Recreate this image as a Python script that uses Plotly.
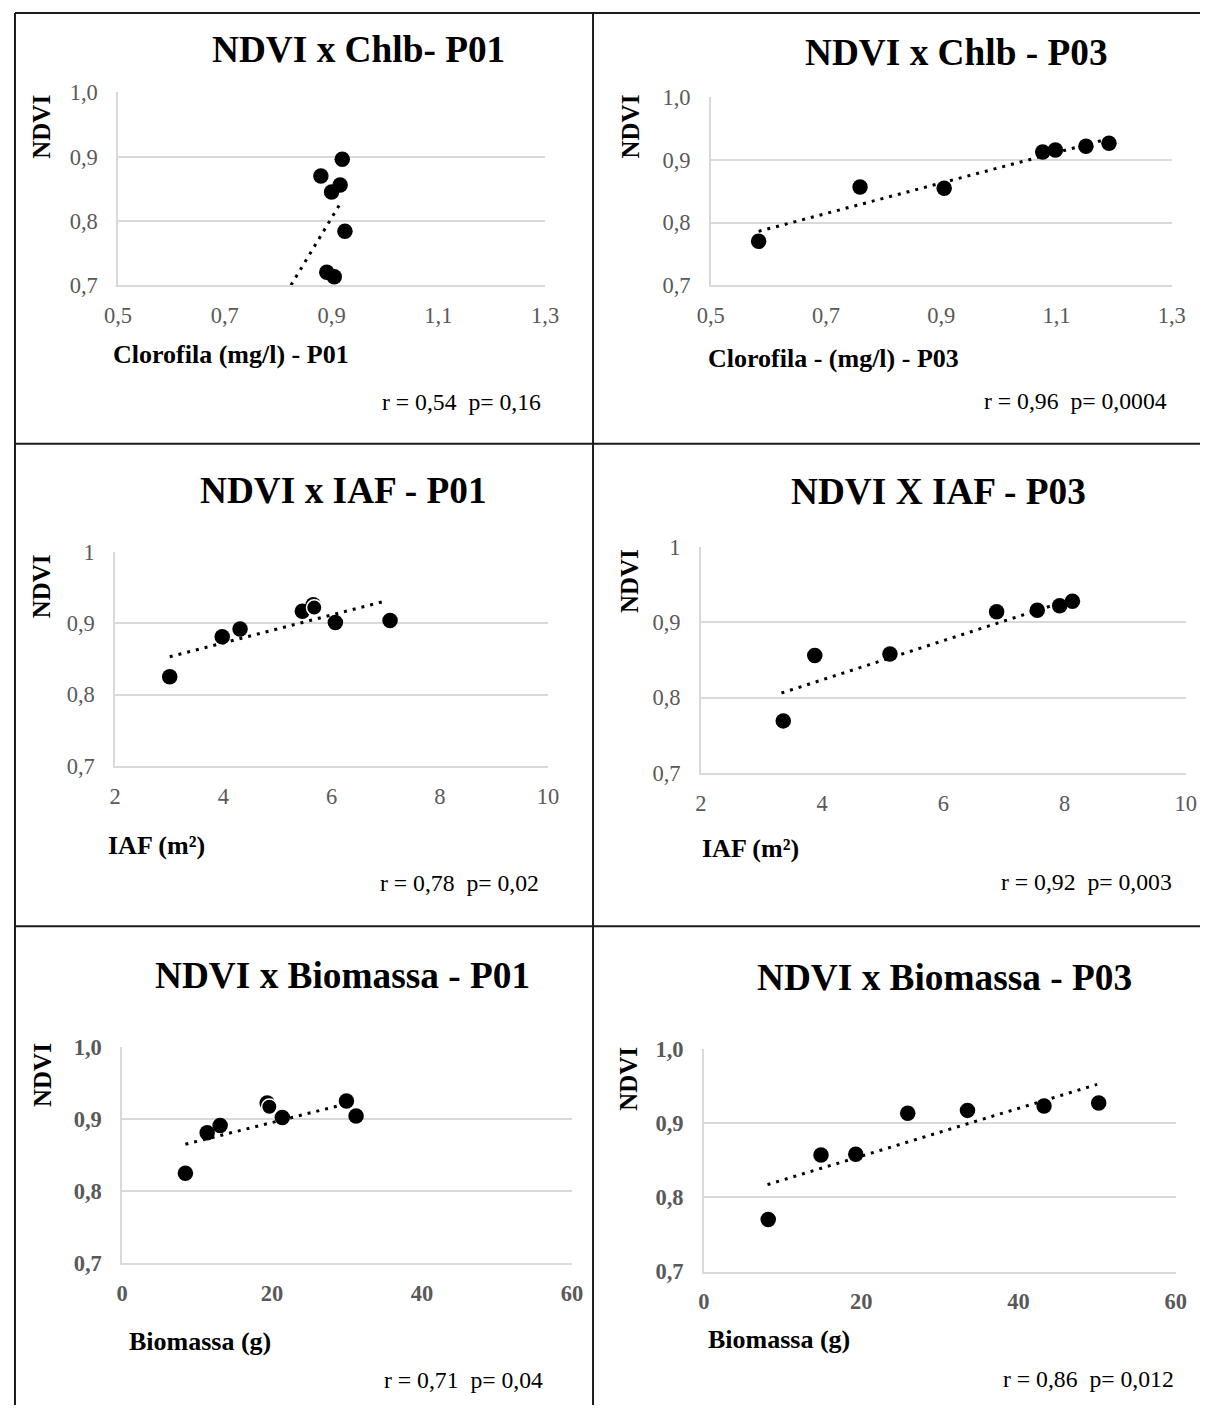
import plotly.graph_objects as go

# ---------------- data ----------------
# Panel 1: NDVI x Chlb - P01
chl_p01 = [0.880, 0.920, 0.916, 0.900, 0.925, 0.891, 0.905]
ndvi_chl_p01 = [0.870, 0.896, 0.856, 0.845, 0.784, 0.720, 0.713]
trend_chl_p01_x = [0.824, 0.917]
trend_chl_p01_y = [0.700, 0.828]

# Panel 2: NDVI x Chlb - P03
chl_p03 = [0.583, 0.759, 0.905, 1.076, 1.098, 1.151, 1.191]
ndvi_chl_p03 = [0.770, 0.857, 0.855, 0.913, 0.916, 0.922, 0.927]
trend_chl_p03_x = [0.583, 1.190]
trend_chl_p03_y = [0.786, 0.934]

# Panel 3: NDVI x IAF - P01
iaf_p01 = [3.01, 3.98, 4.31, 5.46, 5.66, 6.07, 7.08, 5.68]
ndvi_iaf_p01 = [0.825, 0.881, 0.892, 0.917, 0.926, 0.901, 0.904, 0.922]
trend_iaf_p01_x = [3.01, 7.03]
trend_iaf_p01_y = [0.853, 0.932]

# Panel 4: NDVI X IAF - P03
iaf_p03 = [3.36, 3.88, 5.12, 6.88, 7.55, 7.92, 8.13]
ndvi_iaf_p03 = [0.769, 0.856, 0.858, 0.914, 0.916, 0.922, 0.928]
trend_iaf_p03_x = [3.33, 8.13]
trend_iaf_p03_y = [0.806, 0.931]

# Panel 5: NDVI x Biomassa - P01
bio_p01 = [8.45, 11.35, 13.08, 19.35, 21.37, 29.92, 31.2, 19.64]
ndvi_bio_p01 = [0.825, 0.881, 0.891, 0.922, 0.902, 0.925, 0.904, 0.917]
trend_bio_p01_x = [8.45, 29.9]
trend_bio_p01_y = [0.865, 0.921]

# Panel 6: NDVI x Biomassa - P03
bio_p03 = [8.19, 14.9, 19.32, 25.92, 33.52, 43.25, 50.2]
ndvi_bio_p03 = [0.770, 0.857, 0.858, 0.913, 0.917, 0.923, 0.927]
trend_bio_p03_x = [8.1, 50.0]
trend_bio_p03_y = [0.817, 0.952]

titles = ["NDVI x Chlb- P01", "NDVI x Chlb - P03", "NDVI x IAF - P01",
          "NDVI X IAF - P03", "NDVI x Biomassa - P01", "NDVI x Biomassa - P03"]
x_titles = ["Clorofila (mg/l) - P01", "Clorofila - (mg/l) - P03", "IAF (m²)",
            "IAF (m²)", "Biomassa (g)", "Biomassa (g)"]
stats = ["r = 0,54  p= 0,16", "r = 0,96  p= 0,0004", "r = 0,78  p= 0,02",
         "r = 0,92  p= 0,003", "r = 0,71  p= 0,04", "r = 0,86  p= 0,012"]
x_ranges = [[0.5, 1.3], [0.5, 1.3], [2, 10], [2, 10], [0, 60], [0, 60]]
x_dticks = [0.2, 0.2, 2, 2, 20, 20]
y_range = [0.7, 1.0]

series = [
    (chl_p01, ndvi_chl_p01, trend_chl_p01_x, trend_chl_p01_y),
    (chl_p03, ndvi_chl_p03, trend_chl_p03_x, trend_chl_p03_y),
    (iaf_p01, ndvi_iaf_p01, trend_iaf_p01_x, trend_iaf_p01_y),
    (iaf_p03, ndvi_iaf_p03, trend_iaf_p03_x, trend_iaf_p03_y),
    (bio_p01, ndvi_bio_p01, trend_bio_p01_x, trend_bio_p01_y),
    (bio_p03, ndvi_bio_p03, trend_bio_p03_x, trend_bio_p03_y),
]

# ---------------- layout (target pixel geometry) ----------------
W, H = 1214, 1418
# compensation for the slight shrink of the photographed page
S = 0.979
CX, CY = 607, 705

geo = [
    dict(box=(117, 545, 95, 287), title=(358, 52), ylab=(40, 129), xt=(110, 356), st=(543, 403)),
    dict(box=(711, 1173, 100, 287), title=(957, 55), ylab=(631, 129), xt=(706, 360), st=(1170, 402)),
    dict(box=(114, 548, 553, 766), title=(343, 492), ylab=(40, 587), xt=(105, 845), st=(541, 883)),
    dict(box=(701, 1187, 548, 773), title=(939, 493), ylab=(629, 582), xt=(700, 848), st=(1175, 882)),
    dict(box=(121, 572, 1046, 1262), title=(342, 975), ylab=(42, 1074), xt=(126, 1340), st=(545, 1378)),
    dict(box=(704, 1177, 1048, 1270), title=(945, 977), ylab=(629, 1078), xt=(706, 1338), st=(1177, 1377)),
]

FONT = "Liberation Serif"
TICK_GRAY = "#595959"
GRID = "#d9d9d9"


def px(x):
    a = CX + (x - CX) / S
    return min(max(a, 1), W - 1) / W


def py(y):
    a = CY + (y - CY) / S
    return 1 - min(max(a, 1), H - 1) / H


def fs(size):
    return round(size / S, 1)


fig = go.Figure()
annotations = []

for i, ((xs, ys, tx, ty), g) in enumerate(zip(series, geo)):
    n = i + 1
    xa = "x" if n == 1 else f"x{n}"
    ya = "y" if n == 1 else f"y{n}"
    # trendline
    fig.add_trace(go.Scatter(x=tx, y=ty, mode="lines", xaxis=xa, yaxis=ya,
                             line=dict(color="black", width=3, dash="3px,6px"),
                             showlegend=False, hoverinfo="skip"))
    # points (last point of the overlapping pairs drawn with white rim)
    line_colors = ["black"] * len(xs)
    line_widths = [0] * len(xs)
    if i in (2, 4):
        line_colors[-1] = "white"
        line_widths[-1] = 1.5
    fig.add_trace(go.Scatter(x=xs, y=ys, mode="markers", xaxis=xa, yaxis=ya,
                             marker=dict(color="black", size=15.5,
                                         line=dict(color=line_colors, width=line_widths)),
                             showlegend=False, cliponaxis=False))

    x0, x1, y0, y1 = g["box"]
    bold_ticks = i >= 4
    tickfont = dict(family=FONT, size=fs(22), color=TICK_GRAY,
                    weight="bold" if bold_ticks else "normal")
    yfmt = ".1f" if i not in (2, 3) else ""
    xfmt = ".1f" if i in (0, 1) else ""
    fig.update_layout(**{
        ("xaxis" if n == 1 else f"xaxis{n}"): dict(
            domain=[px(x0), px(x1)], anchor=ya, range=x_ranges[i], dtick=x_dticks[i],
            tick0=x_ranges[i][0], tickformat=xfmt, showgrid=False, zeroline=False,
            showline=True, linecolor=GRID, linewidth=1.5, ticks="",
            tickfont=tickfont, ticklabelstandoff=9, fixedrange=True),
        ("yaxis" if n == 1 else f"yaxis{n}"): dict(
            domain=[py(y1), py(y0)], anchor=xa, range=y_range, dtick=0.1, tick0=0.7,
            tickformat=yfmt, showgrid=True, gridcolor=GRID, gridwidth=1.5,
            zeroline=False, showline=True, linecolor=GRID, linewidth=1.5, ticks="",
            tickfont=tickfont, ticklabelstandoff=14, fixedrange=True),
    })
    # title
    annotations.append(dict(text=f"<b>{titles[i]}</b>", x=px(g["title"][0]), y=py(g["title"][1]),
                            xref="paper", yref="paper", xanchor="center", yanchor="middle",
                            showarrow=False, font=dict(family=FONT, size=fs(36.5), color="black")))
    # NDVI axis label
    annotations.append(dict(text="<b>NDVI</b>", x=px(g["ylab"][0]), y=py(g["ylab"][1]),
                            xref="paper", yref="paper", xanchor="center", yanchor="middle",
                            textangle=-90, showarrow=False,
                            font=dict(family=FONT, size=25, color="black")))
    # x title
    annotations.append(dict(text=f"<b>{x_titles[i]}</b>", x=px(g["xt"][0]), y=py(g["xt"][1]),
                            xref="paper", yref="paper", xanchor="left", yanchor="middle",
                            showarrow=False, font=dict(family=FONT, size=26, color="black")))
    # stats
    annotations.append(dict(text=stats[i].replace("  ", "&nbsp; "), x=px(g["st"][0]), y=py(g["st"][1]),
                            xref="paper", yref="paper", xanchor="right", yanchor="middle",
                            showarrow=False, font=dict(family=FONT, size=fs(23.2), color="black")))

# table borders
border = dict(color="#1a1a1a", width=2)
LX, MX, TY = 8, 593, 8
shapes = [
    dict(type="line", xref="paper", yref="paper", x0=px(LX), x1=px(LX), y0=py(TY), y1=0, line=border),
    dict(type="line", xref="paper", yref="paper", x0=px(MX), x1=px(MX), y0=py(TY), y1=0, line=border),
    dict(type="line", xref="paper", yref="paper", x0=px(LX), x1=1, y0=py(TY), y1=py(TY), line=border),
    dict(type="line", xref="paper", yref="paper", x0=px(LX), x1=1, y0=py(445), y1=py(445), line=border),
    dict(type="line", xref="paper", yref="paper", x0=px(LX), x1=1, y0=py(926), y1=py(926), line=border),
]

fig.update_layout(width=W, height=H, margin=dict(l=0, r=0, t=0, b=0),
                  paper_bgcolor="white", plot_bgcolor="white",
                  separators=",.", annotations=annotations, shapes=shapes,
                  showlegend=False)

fig.write_html("out.html", config={"displayModeBar": False},
               post_script="document.body.style.margin='0';")
